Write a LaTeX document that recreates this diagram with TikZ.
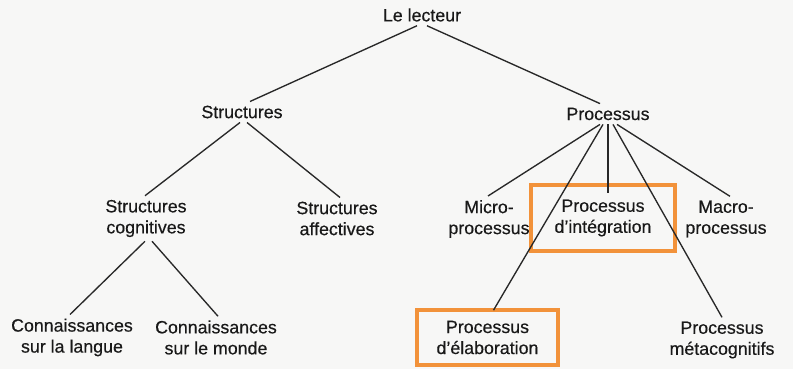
\documentclass[tikz,border=0pt]{standalone}
\usepackage{fontspec}
\setmainfont[FakeBold=0.4]{Liberation Sans}
\definecolor{paper}{RGB}{247,247,246}
\definecolor{ink}{RGB}{25,25,25}
\definecolor{edge}{RGB}{40,40,40}
\definecolor{hl}{RGB}{242,146,58}
\begin{document}
\begin{tikzpicture}[x=1pt,y=-1pt,
  lbl/.style={text=ink,align=center,inner sep=4pt,font=\fontsize{17.8}{21}\selectfont},
  hlbox/.style={lbl,draw=hl,line width=3.6pt},
  conn/.style={draw=edge,line width=1.35pt}]
\fill[paper] (0,0) rectangle (793,369);
\useasboundingbox (0,0) rectangle (793,369);
% nodes
\node[lbl] (lect) at (422,15) {Le lecteur};
\node[lbl] (struct) at (242,112) {Structures};
\node[lbl] (proc) at (608,114) {Processus};
\node[lbl] (scog) at (146,218.5) {Structures\\cognitives};
\node[lbl] (saff) at (337,218.5) {Structures\\affectives};
\node[lbl] (cl) at (72,337.5) {Connaissances\\sur la langue};
\node[lbl] (cm) at (216,337.5) {Connaissances\\sur le monde};
\node[lbl] (micro) at (489,219) {Micro-\\processus};
\node[lbl] (macro) at (726,219) {Macro-\\processus};
\node[lbl] (meta) at (722,340) {Processus\\métacognitifs};
% connectors
\draw[conn] ([xshift=-5pt]lect.south) -- ([xshift=8pt]struct.north);
\draw[conn] ([xshift=5pt]lect.south) -- ([xshift=-8pt]proc.north);
\draw[conn] ([xshift=-2pt]struct.south) -- ([xshift=-1pt]scog.north);
\draw[conn] ([xshift=5pt]struct.south) -- ([xshift=3pt]saff.north);
\draw[conn] ([xshift=-1pt]scog.south) -- ([xshift=-2pt]cl.north);
\draw[conn] ([xshift=6pt]scog.south) -- ([xshift=2pt]cm.north);
\node[hlbox,minimum width=144pt,minimum height=66pt] (integ) at (603,218) {Processus\\d'intégration};
\node[hlbox,minimum width=141pt,minimum height=55pt] (elab) at (487.5,337.5) {Processus\\d'élaboration};
\draw[conn] ([xshift=-8pt]proc.south) -- ([xshift=-1pt]micro.north);
\draw[conn] ([xshift=-5pt]proc.south) -- ([xshift=6pt,yshift=-2pt]elab.north);
\draw[conn,shorten >=-10pt] (proc.south) -- ([xshift=5pt]integ.north);
\draw[conn] ([xshift=5pt]proc.south) -- (meta.north);
\draw[conn] ([xshift=9pt]proc.south) -- ([xshift=4pt]macro.north);
\end{tikzpicture}
\end{document}
